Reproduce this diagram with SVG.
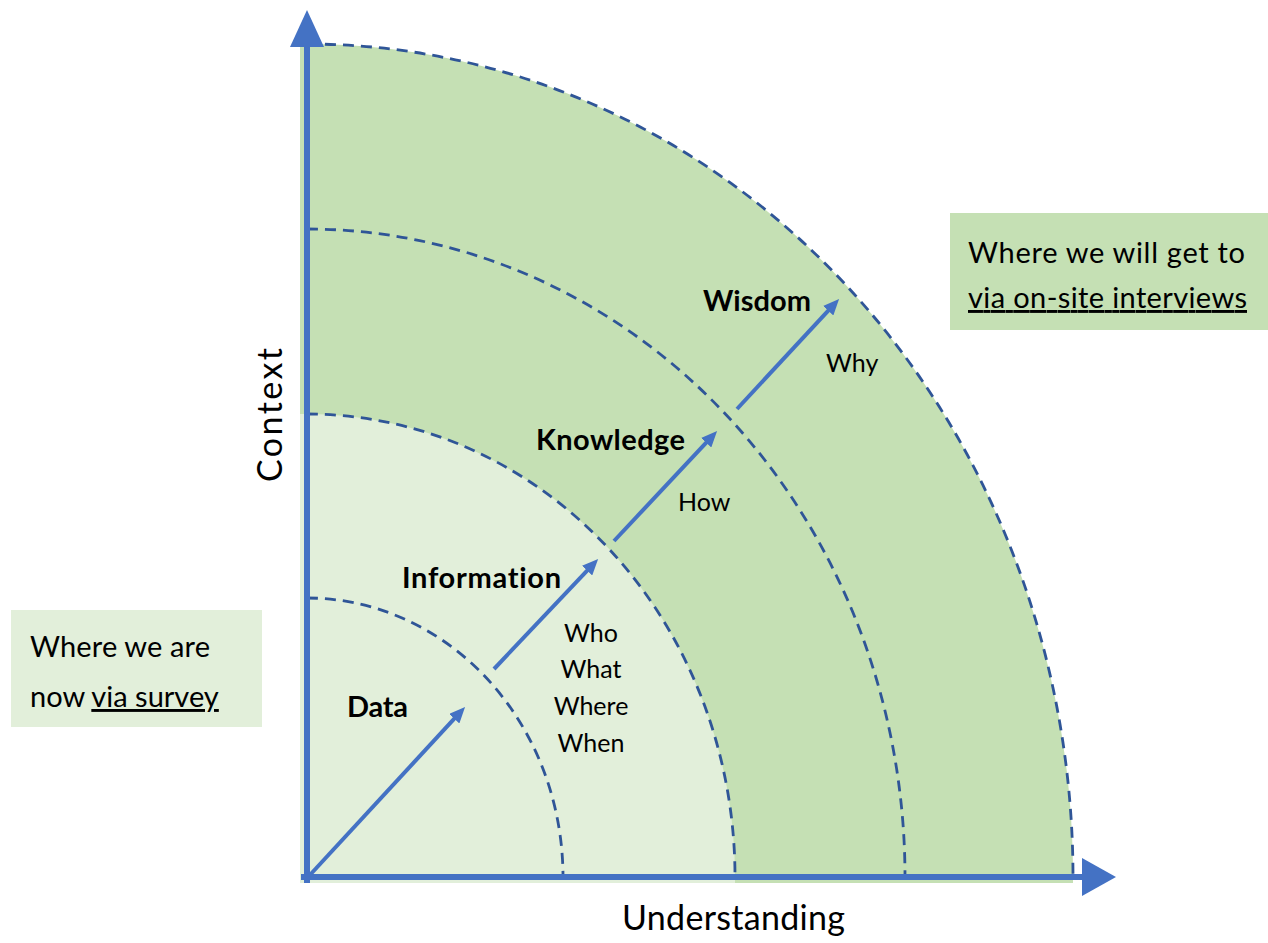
<svg xmlns="http://www.w3.org/2000/svg" width="1268" height="943" viewBox="0 0 1268 943">
  <style>
    .lbl { font-family: Lato, "Liberation Sans", sans-serif; fill: #000; font-variant-ligatures: none; }
    .stage { font-size: 29px; font-weight: bold; }
    .q { font-size: 25px; }
    .note { font-size: 29px; }
    .axislbl { font-size: 34px; }
    .ring { fill: none; stroke: #2F5597; stroke-width: 2.8; stroke-dasharray: 11 7; }
    .axis { stroke: #4472C4; stroke-width: 6; fill: none; }
    .step { stroke: #4472C4; stroke-width: 4; fill: none; marker-end: url(#head); }
    .u { text-decoration: underline; }
  </style>
  <defs>
    <marker id="head" markerUnits="userSpaceOnUse" markerWidth="16" markerHeight="14" refX="10" refY="7" orient="auto">
      <path d="M0,0 L16,7 L0,14 Z" fill="#4472C4"/>
    </marker>
  </defs>

  <!-- filled bands -->
  <g id="bands">
    <path d="M300,883 V44 H307 A766 833 0 0 1 1073 877 V883 Z" fill="#C5E0B4"/>
    <path d="M300,883 V414 H307 A428 463 0 0 1 735 877 V883 Z" fill="#E2EFDA"/>
  </g>

  <!-- dashed level boundaries -->
  <g id="rings">
    <path class="ring" d="M307,598 A256 279 0 0 1 563 877"/>
    <path class="ring" d="M307,414 A428 463 0 0 1 735 877"/>
    <path class="ring" d="M307,229 A598 648 0 0 1 905 877"/>
    <path class="ring" d="M307,44 A766 833 0 0 1 1073 877"/>
  </g>

  <!-- axes -->
  <g id="axes">
    <line class="axis" x1="307" y1="883" x2="307" y2="46"/>
    <polygon points="307,10 290,47 324,47" fill="#4472C4"/>
    <line class="axis" x1="301" y1="877" x2="1084" y2="877"/>
    <polygon points="1116,877 1082,858 1082,896" fill="#4472C4"/>
  </g>

  <!-- progression arrows -->
  <g id="connectors">
    <line class="step" x1="309" y1="876" x2="461" y2="711.4"/>
    <line class="step" x1="494" y1="669" x2="594" y2="563.4"/>
    <line class="step" x1="614" y1="541" x2="713" y2="435.4"/>
    <line class="step" x1="737" y1="409" x2="835" y2="303.4"/>
  </g>

  <g id="data">
    <text class="lbl stage" x="347" y="717" textLength="61">Data</text>
  </g>
  <g id="information">
    <text class="lbl stage" x="402" y="588" textLength="159">Information</text>
    <text class="lbl q" x="591" y="642" text-anchor="middle">Who</text>
    <text class="lbl q" x="591" y="678" text-anchor="middle">What</text>
    <text class="lbl q" x="591" y="715" text-anchor="middle">Where</text>
    <text class="lbl q" x="591" y="752" text-anchor="middle">When</text>
  </g>
  <g id="knowledge">
    <text class="lbl stage" x="536" y="450" textLength="149">Knowledge</text>
    <text class="lbl q" x="678" y="511">How</text>
  </g>
  <g id="wisdom">
    <text class="lbl stage" x="703" y="311" textLength="108">Wisdom</text>
    <text class="lbl q" x="826" y="372">Why</text>
  </g>

  <g id="axis-labels">
    <text class="lbl axislbl" transform="translate(282,415) rotate(-90)" text-anchor="middle" textLength="134">Context</text>
    <text class="lbl axislbl" x="622" y="930" textLength="223">Understanding</text>
  </g>

  <g id="goal-note">
    <rect x="950" y="213" width="318" height="117" fill="#C5E0B4"/>
    <text class="lbl note" x="968" y="263" textLength="277">Where we will get to</text>
    <text class="lbl note u" x="968" y="308" textLength="279">via on-site interviews</text>
  </g>

  <g id="current-note">
    <rect x="11" y="610" width="251" height="117" fill="#E2EFDA"/>
    <text class="lbl note" x="30" y="657" textLength="180">Where we are</text>
    <text class="lbl note" x="30" y="707">now <tspan class="u">via survey</tspan></text>
  </g>
</svg>
